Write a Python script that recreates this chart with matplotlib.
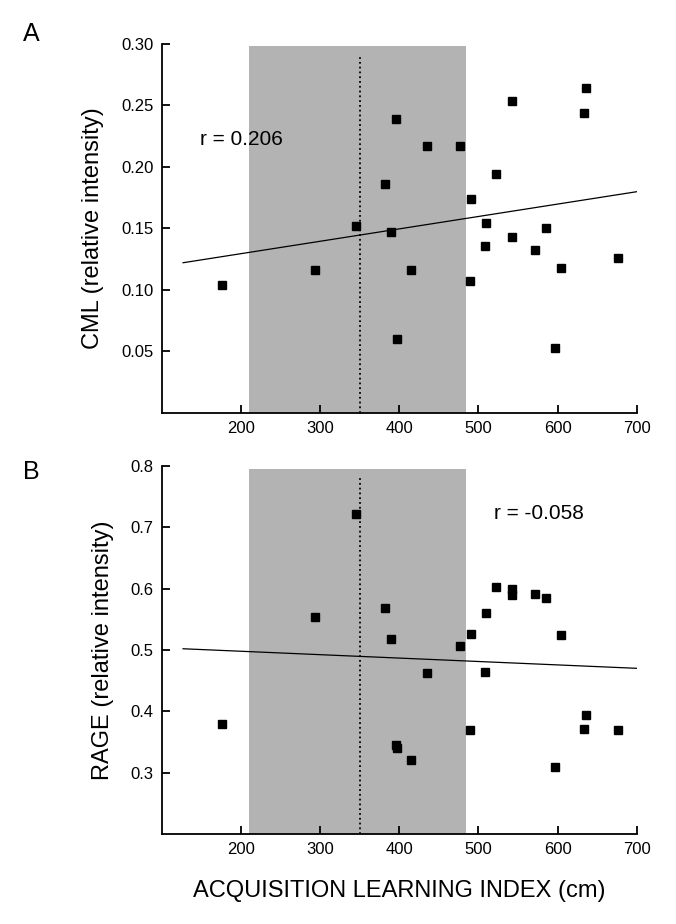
"""Two-panel scatter: CML and RAGE vs acquisition learning index."""

import matplotlib

matplotlib.use("Agg")
import matplotlib.pyplot as plt
from matplotlib.patches import Rectangle

plt.rcParams["font.family"] = ["Liberation Sans", "DejaVu Sans"]

# learning index (cm), same animals in both panels
learning_idx = [176, 294, 345, 382, 390, 396, 397, 415, 435, 477, 489, 491,
                508, 510, 522, 543, 543, 571, 586, 597, 604, 634, 636, 676]
cml = [0.104, 0.116, 0.152, 0.186, 0.147, 0.239, 0.060, 0.116, 0.217, 0.217,
       0.107, 0.174, 0.136, 0.154, 0.194, 0.254, 0.143, 0.132, 0.150, 0.053,
       0.118, 0.244, 0.264, 0.126]
rage = [0.380, 0.554, 0.721, 0.568, 0.518, 0.345, 0.340, 0.320, 0.462, 0.506,
        0.370, 0.526, 0.464, 0.560, 0.603, 0.599, 0.590, 0.592, 0.585, 0.309,
        0.525, 0.371, 0.394, 0.370]

# regression line end points
fit_x = [127, 702]
cml_fit = [0.122, 0.180]
rage_fit = [0.502, 0.470]

# shaded band and its median marker
band = (210.5, 484.8)
median_x = 350

cml_ticks = [0.05, 0.10, 0.15, 0.20, 0.25, 0.30]
rage_ticks = [0.3, 0.4, 0.5, 0.6, 0.7, 0.8]
x_ticks = [200, 300, 400, 500, 600, 700]

SHADE = "#b3b3b3"


def draw_panel(ax, y, fit_y, ylim, band_top, dot_top, yticks, fmt, ylabel,
               r_text, r_pos):
    ax.add_patch(Rectangle((band[0], ylim[0]), band[1] - band[0],
                           band_top - ylim[0], color=SHADE, lw=0, zorder=0))
    ax.plot([median_x, median_x], [ylim[0], dot_top], color="black", ls=":",
            lw=1.3, zorder=1)
    ax.plot(fit_x, fit_y, color="black", lw=0.9, zorder=2)
    ax.plot(learning_idx, y, "s", color="black", ms=6, zorder=3,
            clip_on=False)
    ax.set_xlim(100, 700)
    ax.set_ylim(*ylim)
    ax.set_xticks(x_ticks)
    ax.set_yticks(yticks)
    ax.set_yticklabels([fmt.format(v) for v in yticks])
    ax.tick_params(direction="in", length=6, width=1.3, labelsize=12, pad=6)
    for side in ("top", "right"):
        ax.spines[side].set_visible(False)
    for side in ("left", "bottom"):
        ax.spines[side].set_linewidth(1.3)
    ax.set_ylabel(ylabel, fontsize=17, labelpad=12)
    ax.text(r_pos[0], r_pos[1], r_text, fontsize=15, va="center", ha="left")


fig = plt.figure(figsize=(6.76, 9.24), dpi=100)
ax_a = fig.add_axes([0.2392, 0.5534, 0.7027, 0.3990])
ax_b = fig.add_axes([0.2392, 0.0974, 0.7027, 0.3983])

draw_panel(ax_a, cml, cml_fit, (0, 0.30), 0.298, 0.29, cml_ticks, "{:.2f}",
           "CML (relative intensity)", "r = 0.206", (148, 0.222))
draw_panel(ax_b, rage, rage_fit, (0.2, 0.8), 0.795, 0.78, rage_ticks, "{:.1f}",
           "RAGE (relative intensity)", "r = -0.058", (520, 0.723))

ax_b.set_xlabel("ACQUISITION LEARNING INDEX (cm)", fontsize=17, labelpad=16)

fig.text(31 / 676, 1 - 34 / 924, "A", fontsize=18, ha="center", va="center")
fig.text(31 / 676, 1 - 472 / 924, "B", fontsize=18, ha="center", va="center")

fig.savefig("out.png", dpi=100)
plt.close(fig)
